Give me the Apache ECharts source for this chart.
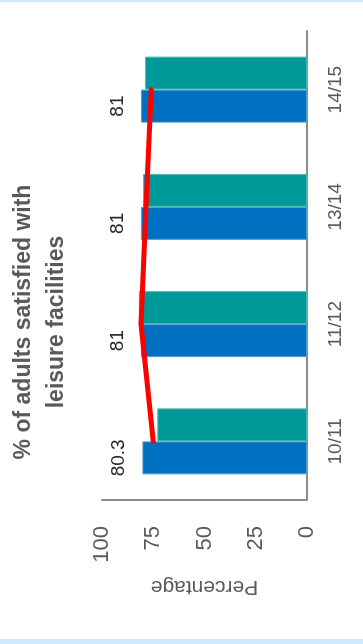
<!DOCTYPE html>
<html>
<head>
<meta charset="utf-8">
<script src="https://cdn.jsdelivr.net/npm/echarts@6/dist/echarts.min.js"></script>
<style>
  html, body { margin: 0; padding: 0; }
  body { width: 363px; height: 644px; background: #cde9fb; position: relative; overflow: hidden; }
  #sheet { position: absolute; left: 0; top: 2px; width: 363px; height: 637px; background: #ffffff; }
  /* The column chart is laid out landscape and turned a quarter turn counter-clockwise. */
  #chart {
    position: absolute; left: 0; top: 0;
    width: 644px; height: 363px;
    transform-origin: 0 0;
    transform: translate(0, 644px) rotate(-90deg);
  }
</style>
</head>
<body>
<div id="sheet"></div>
<div id="chart"></div>
<script>
// Survey years
const years = ['10/11', '11/12', '13/14', '14/15'];
// Local result (labelled) and comparison bars
const localValues = [80.3, 81, 81, 81];
const comparisonValues = [73, 82, 80, 79];
// Trend line
const trendValues = [75, 81, 78.5, 76];
// Value axis ticks
const valueTicks = [0, 25, 50, 75, 100];

const titleText = '% of adults satisfied with\nleisure facilities';
const font = 'Liberation Sans';
const grey = '#595959';
const axisGrey = '#8c8c8c';

const chart = echarts.init(document.getElementById('chart'), null, { renderer: 'canvas' });

chart.setOption({
  animation: false,
  backgroundColor: 'transparent',
  title: {
    text: titleText,
    left: 'center',
    top: 2,
    textStyle: {
      fontFamily: font,
      fontSize: 23,
      fontWeight: 'bold',
      color: grey,
      lineHeight: 33
    }
  },
  grid: { left: 144, right: 31, top: 102, bottom: 56 },
  xAxis: {
    type: 'category',
    data: years,
    axisLine: { show: true, lineStyle: { color: axisGrey, width: 2 } },
    axisTick: { show: false },
    axisLabel: { fontFamily: font, fontSize: 19, color: grey, margin: 19 }
  },
  yAxis: {
    type: 'value',
    min: valueTicks[0],
    max: valueTicks[valueTicks.length - 1],
    interval: valueTicks[1] - valueTicks[0],
    name: 'Percentage',
    nameLocation: 'middle',
    nameRotate: 90,
    nameGap: 76,
    nameTextStyle: { fontFamily: font, fontSize: 21, color: grey },
    axisLine: { show: true, lineStyle: { color: axisGrey, width: 2 } },
    axisTick: { show: false },
    splitLine: { show: false },
    axisLabel: { fontFamily: font, fontSize: 22, color: grey, margin: 26 }
  },
  series: [
    {
      type: 'bar',
      data: localValues,
      barWidth: 33,
      barGap: '0%',
      itemStyle: { color: '#0070c0', borderColor: '#5b9bd5', borderWidth: 1 },
      label: {
        show: true,
        position: 'top',
        distance: 14,
        fontFamily: font,
        fontSize: 19,
        color: '#262626'
      }
    },
    {
      type: 'bar',
      data: comparisonValues,
      barWidth: 33,
      barGap: '0%',
      itemStyle: { color: '#00999a', borderColor: '#4fb8b3', borderWidth: 1 }
    },
    {
      type: 'line',
      data: trendValues,
      symbol: 'none',
      z: 5,
      lineStyle: { color: '#ff0000', width: 5, cap: 'round', join: 'round' }
    }
  ]
});
</script>
</body>
</html>
